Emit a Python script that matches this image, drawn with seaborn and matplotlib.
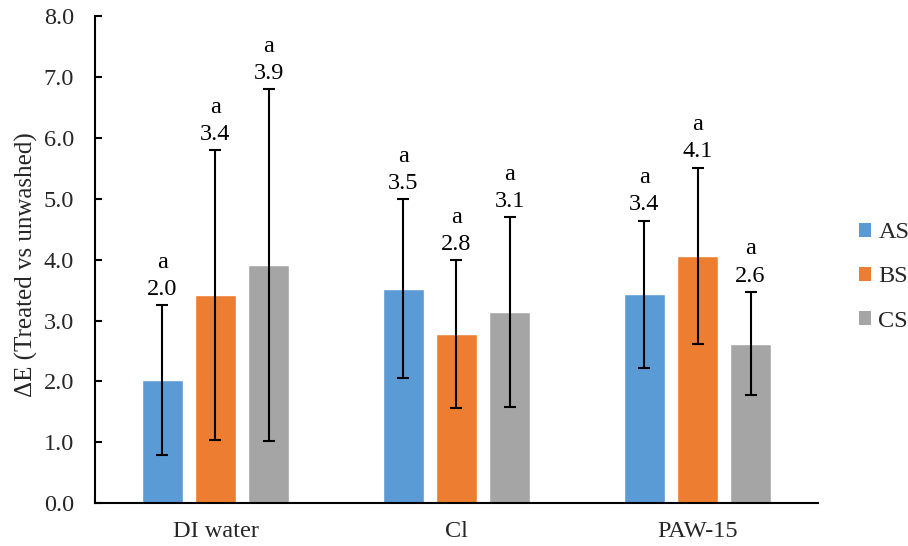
import matplotlib
matplotlib.use("Agg")
import matplotlib.pyplot as plt
import seaborn as sns
import pandas as pd
from matplotlib.patches import Patch

# Mean colour difference and standard deviation per wash treatment and sample
treatments = ["DI water", "Cl", "PAW-15"]
samples = ["AS", "BS", "CS"]
mean_as = [2.02, 3.52, 3.43]
mean_bs = [3.42, 2.78, 4.06]
mean_cs = [3.91, 3.14, 2.62]
sd_as = [1.23, 1.47, 1.21]
sd_bs = [2.38, 1.21, 1.45]
sd_cs = [2.89, 1.56, 0.85]
letters_as = ["a", "a", "a"]
letters_bs = ["a", "a", "a"]
letters_cs = ["a", "a", "a"]
y_ticks = [0, 1, 2, 3, 4, 5, 6, 7, 8]

colors = {"AS": "#5B9BD5", "BS": "#ED7D31", "CS": "#A5A5A5"}

means = {"AS": mean_as, "BS": mean_bs, "CS": mean_cs}
sds = {"AS": sd_as, "BS": sd_bs, "CS": sd_cs}
letters = {"AS": letters_as, "BS": letters_bs, "CS": letters_cs}

df = pd.DataFrame(
    [(t, s, means[s][i], sds[s][i], letters[s][i])
     for s in samples for i, t in enumerate(treatments)],
    columns=["treatment", "sample", "dE", "sd", "letter"],
)

sns.set_style("white")
plt.rcParams["font.family"] = ["Liberation Serif", "DejaVu Serif"]
FS = 17.5

fig = plt.figure(figsize=(9.08, 5.46), dpi=100)
ax = fig.add_axes([0.1046, 0.0782, 0.9009 - 0.1046, 0.9707 - 0.0782])

sns.barplot(
    data=df, x="treatment", y="dE", hue="sample",
    order=treatments, hue_order=samples, palette=colors,
    width=0.66, gap=0.21, errorbar=None, legend=False, ax=ax,
    saturation=1,
)

# Error bars and annotation above each bar, placed at the bar centres
for sample, container in zip(samples, ax.containers):
    for i, bar in enumerate(container):
        xc = bar.get_x() + bar.get_width() / 2
        m = means[sample][i]
        e = sds[sample][i]
        ax.errorbar(xc, m, yerr=e, fmt="none", ecolor="black",
                    elinewidth=1.5, capsize=4.3, capthick=1.5, zorder=3)
        top = m + e
        ax.annotate(f"{m:.1f}", (xc, top), xytext=(0, 7.5),
                    textcoords="offset points", ha="center", va="baseline",
                    fontsize=FS, color="black")
        ax.annotate(letters[sample][i], (xc, top), xytext=(0, 27),
                    textcoords="offset points", ha="center", va="baseline",
                    fontsize=FS, color="black")

ax.set_ylim(0, 8)
ax.set_xlim(-0.5, 2.5)
ax.set_yticks(y_ticks)
ax.set_yticklabels([f"{v:.1f}" for v in y_ticks], fontsize=FS)
ax.set_xticks(range(len(treatments)))
ax.set_xticklabels(treatments, fontsize=FS)
ax.set_xlabel("")
ax.set_ylabel("ΔE (Treated vs unwashed)", fontsize=18)
ax.yaxis.set_label_coords(-0.079, 0.49)

for side in ["top", "right"]:
    ax.spines[side].set_visible(False)
for side in ["left", "bottom"]:
    ax.spines[side].set_color("black")
    ax.spines[side].set_linewidth(1.5)

ax.tick_params(axis="y", direction="in", length=5, width=1.5,
               color="black", pad=15, left=True)
ax.tick_params(axis="x", length=0, pad=13)

handles = [Patch(facecolor=colors[s], edgecolor="none", label=s) for s in samples]
fig.legend(handles=handles, loc="center left",
           bbox_to_anchor=(859 / 908, 1 - 277 / 546), frameon=False,
           fontsize=FS, handlelength=0.5, handleheight=0.5,
           handletextpad=0.3, labelspacing=0.95, borderpad=0,
           borderaxespad=0)

fig.savefig("out.png", dpi=100)
